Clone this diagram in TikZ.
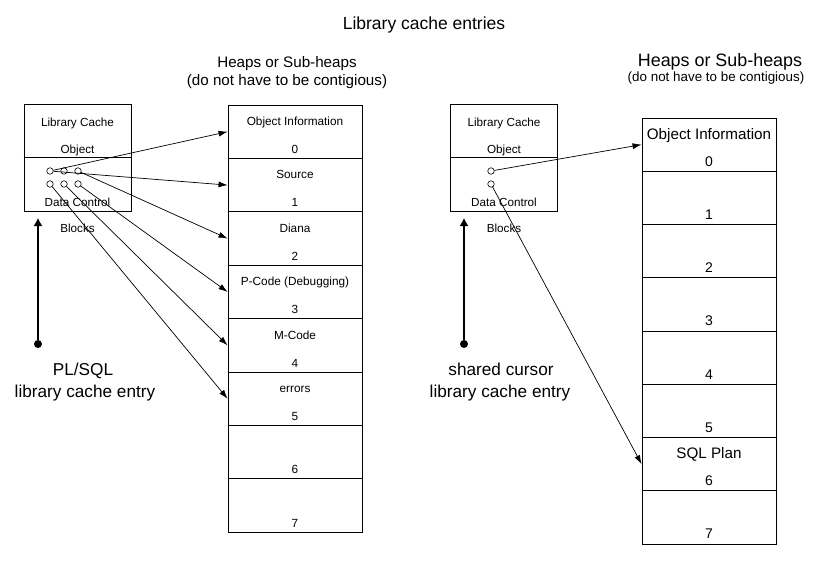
\documentclass[tikz,border=0pt]{standalone}
\usepackage{fontspec}
\setmainfont{Liberation Sans}
\usetikzlibrary{arrows.meta}
\newcommand{\lcSize}[1]{\fontsize{#1}{#1}\selectfont}

\begin{document}
\begin{tikzpicture}[x=1pt,y=-1pt,
  lcbox/.style={draw, line width=0.9pt, minimum width=107pt, minimum height=107pt, inner sep=0pt},
  heapcell/.style={draw, line width=0.9pt, minimum width=134pt, minimum height=53.4pt, inner sep=0pt},
  dcring/.style={circle, draw, line width=0.6pt, fill=white, minimum size=6.5pt, inner sep=0pt},
  entrydot/.style={circle, fill=black, minimum size=8pt, inner sep=0pt},
  ptr/.style={line width=0.7pt, -{Latex[length=9pt,width=6pt]}},
  uparrow/.style={line width=1.2pt, -{Latex[length=8pt,width=9pt]}},
  txt/.style={inner sep=0pt, anchor=base}]
\useasboundingbox (0,0) rectangle (813,563);
\node[txt, font=\lcSize{17.5}] (title) at (424,29.5) {Library cache entries};
\node[txt, font=\lcSize{15.2}] (lheaps) at (287,67) {Heaps or Sub-heaps};
\node[txt, font=\lcSize{15.2}] (lcontig) at (287,85.5) {(do not have to be contigious)};
\node[txt, font=\lcSize{17.9}] (rheaps) at (720,66) {Heaps or Sub-heaps};
\node[txt, font=\lcSize{13.4}] (rcontig) at (716,81) {(do not have to be contigious)};
\node[lcbox] (lbox) at (77.5,157.5) {};
\draw[line width=0.9pt] (lbox.west) -- (lbox.east);
\node[txt, font=\lcSize{11.7}] (lbt1) at (77.5,126) {Library Cache};
\node[txt, font=\lcSize{11.7}] (lbt2) at (77.5,153) {Object};
\node[txt, font=\lcSize{11.7}] (lbt3) at (77.5,206) {Data Control};
\node[txt, font=\lcSize{11.7}] (lbt4) at (77.5,232) {Blocks};
\node[lcbox] (rbox) at (504,157.5) {};
\draw[line width=0.9pt] (rbox.west) -- (rbox.east);
\node[txt, font=\lcSize{11.7}] (rbt1) at (504,126) {Library Cache};
\node[txt, font=\lcSize{11.7}] (rbt2) at (504,153) {Object};
\node[txt, font=\lcSize{11.7}] (rbt3) at (504,206) {Data Control};
\node[txt, font=\lcSize{11.7}] (rbt4) at (504,232) {Blocks};
\foreach \i/\lab in {0/{Object Information},1/Source,2/Diana,3/{P-Code (Debugging)},4/M-Code,5/errors,6/{},7/{}} {
  \node[heapcell] (L\i) at (295,131.7+53.4*\i) {};
  \node[txt, font=\lcSize{11.8}] (Lt\i) at ([yshift=-21pt]L\i.north) {\lab};
  \node[txt, font=\lcSize{11.8}] (Ln\i) at ([yshift=-49pt]L\i.north) {\i};
}
\foreach \i/\lab in {0/{Object Information},1/{},2/{},3/{},4/{},5/{},6/{SQL Plan},7/{}} {
  \node[heapcell, minimum height=53.25pt] (R\i) at (709,144.6+53.25*\i) {};
  \node[txt, font=\lcSize{15.2}] (Rt\i) at ([yshift=-21.5pt]R\i.north) {\lab};
  \node[txt, font=\lcSize{14}] (Rn\i) at ([yshift=-48.5pt]R\i.north) {\i};
}
\foreach \i/\x in {1/50,2/64,3/78} {
  \node[dcring] (lc\i) at (\x,171) {};
  \node[dcring] (ld\i) at (\x,184) {};
}
\node[dcring] (rc1) at (491,171) {};
\node[dcring] (rc2) at (491,184) {};
\draw[ptr] (lc1) -- (L0.west);
\draw[ptr] (lc1) -- (L1.west);
\draw[ptr] (lc3) -- (L2.west);
\draw[ptr] (ld3) -- (L3.west);
\draw[ptr] (ld2) -- (L4.west);
\draw[ptr] (ld1) -- (L5.west);
\draw[ptr] (rc1) -- (R0.west);
\draw[ptr] (rc2) -- (R6.west);
\node[entrydot] (ldot) at (38,344) {};
\coordinate (ltip) at (38,218);
\draw[uparrow] (ldot) -- (ltip);
\node[txt, font=\lcSize{17.2}] (lname1) at (83,375) {PL/SQL};
\node[txt, font=\lcSize{17.2}] (lname2) at (85,397) {library cache entry};
\node[entrydot] (rdot) at (464,344) {};
\coordinate (rtip) at (464,218);
\draw[uparrow] (rdot) -- (rtip);
\node[txt, font=\lcSize{17.2}] (rname1) at (501,375) {shared cursor};
\node[txt, font=\lcSize{17.2}] (rname2) at (500,397) {library cache entry};
\end{tikzpicture}
\end{document}
